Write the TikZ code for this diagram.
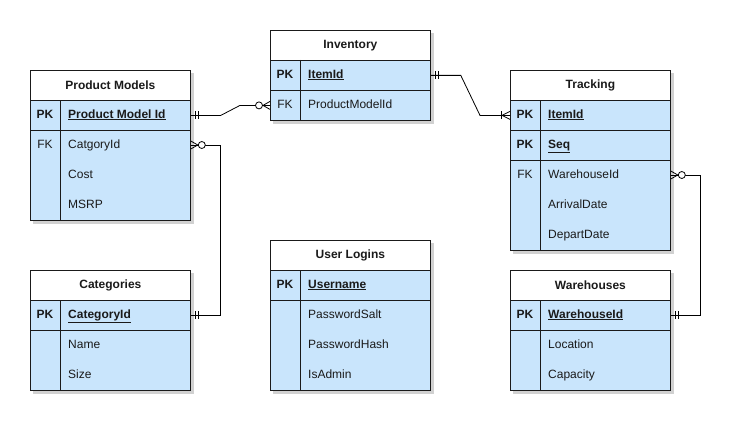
\documentclass[tikz,border=0pt]{standalone}
\usepackage{fontspec}
\setmainfont{Liberation Sans}
\usetikzlibrary{calc,backgrounds}
\definecolor{erblue}{HTML}{C9E5FC}
\definecolor{ink}{HTML}{1A1A1A}
\tikzset{
 tbltitle/.style={draw=ink, fill=white, line width=0.8pt, minimum width=160pt, minimum height=30pt, inner sep=0pt, anchor=north west, font=\fontsize{12}{14}\selectfont\bfseries, text=ink},
 tblsec/.style={draw=ink, fill=erblue, line width=0.8pt, minimum width=160pt, inner sep=0pt, anchor=north west},
 keytxt/.style={inner sep=0pt, text=ink, text height=8.6pt, text depth=2.6pt},
 fldtxt/.style={inner sep=0pt, anchor=west, text=ink, text height=8.6pt, text depth=2.6pt},
 shade/.style={fill=black!18},
 divider/.style={draw=ink, line width=0.8pt},
 conn/.style={line width=0.8pt, draw=black},
}
\newcommand{\erone}[2]{%
 \draw[conn] ($(#1)+(#2*5,-4)$) -- ($(#1)+(#2*5,4)$);
 \draw[conn] ($(#1)+(#2*8,-4)$) -- ($(#1)+(#2*8,4)$);}
\newcommand{\erzeromany}[2]{%
 \draw[conn] ($(#1)+(0,-4)$) -- ($(#1)+(#2*7,0)$) -- ($(#1)+(0,4)$);
 \draw[conn, fill=white] ($(#1)+(#2*11,0)$) circle[radius=3.5pt];}
\newcommand{\eronemany}[2]{%
 \draw[conn] ($(#1)+(0,-4)$) -- ($(#1)+(#2*8,0)$) -- ($(#1)+(0,4)$);
 \draw[conn] ($(#1)+(#2*9,-4)$) -- ($(#1)+(#2*9,4)$);}
\begin{document}
\begin{tikzpicture}[x=1pt, y=-1pt, font=\fontsize{12}{14}\selectfont]
\useasboundingbox (0,0) rectangle (747,428);
% Product Models
\node[tbltitle] (pmt) at (30,70) {Product Models};
\node[tblsec, minimum height=30pt] (pmk) at (30,100) {};
\node[tblsec, minimum height=90pt] (pmf) at (30,130) {};
\draw[divider] ($(pmk.north west)+(30,0)$) -- ($(pmf.south west)+(30,0)$);
\node[keytxt] (pmkk) at (45,115) {\textbf{PK}};
\node[fldtxt] (pmk1) at (68,115) {\textbf{\underline{Product Model Id}}};
\node[keytxt] (pmfk) at (45,145) {FK};
\node[fldtxt] (pmf1) at (68,145) {CatgoryId};
\node[fldtxt] (pmf2) at (68,175) {Cost};
\node[fldtxt] (pmf3) at (68,205) {MSRP};
% Inventory
\node[tbltitle] (invt) at (270,30) {Inventory};
\node[tblsec, minimum height=30pt] (invk) at (270,60) {};
\node[tblsec, minimum height=30pt] (invf) at (270,90) {};
\draw[divider] ($(invk.north west)+(30,0)$) -- ($(invf.south west)+(30,0)$);
\node[keytxt] (invkk) at (285,75) {\textbf{PK}};
\node[fldtxt] (invk1) at (308,75) {\textbf{\underline{ItemId}}};
\node[keytxt] (invfk) at (285,105) {FK};
\node[fldtxt] (invf1) at (308,105) {ProductModelId};
% Tracking
\node[tbltitle] (trt) at (510,70) {Tracking};
\node[tblsec, minimum height=30pt] (trk1) at (510,100) {};
\node[tblsec, minimum height=30pt] (trk2) at (510,130) {};
\node[tblsec, minimum height=90pt] (trf) at (510,160) {};
\draw[divider] ($(trk1.north west)+(30,0)$) -- ($(trf.south west)+(30,0)$);
\node[keytxt] (trkk1) at (525,115) {\textbf{PK}};
\node[fldtxt] (trk1t) at (548,115) {\textbf{\underline{ItemId}}};
\node[keytxt] (trkk2) at (525,145) {\textbf{PK}};
\node[fldtxt] (trk2t) at (548,145) {\textbf{\underline{Seq}}};
\node[keytxt] (trfk) at (525,175) {FK};
\node[fldtxt] (trf1) at (548,175) {WarehouseId};
\node[fldtxt] (trf2) at (548,205) {ArrivalDate};
\node[fldtxt] (trf3) at (548,235) {DepartDate};
% Categories
\node[tbltitle] (catt) at (30,270) {Categories};
\node[tblsec, minimum height=30pt] (catk) at (30,300) {};
\node[tblsec, minimum height=60pt] (catf) at (30,330) {};
\draw[divider] ($(catk.north west)+(30,0)$) -- ($(catf.south west)+(30,0)$);
\node[keytxt] (catkk) at (45,315) {\textbf{PK}};
\node[fldtxt] (catk1) at (68,315) {\textbf{\underline{CategoryId}}};
\node[fldtxt] (catf1) at (68,345) {Name};
\node[fldtxt] (catf2) at (68,375) {Size};
% User Logins
\node[tbltitle] (ult) at (270,240) {User Logins};
\node[tblsec, minimum height=30pt] (ulk) at (270,270) {};
\node[tblsec, minimum height=90pt] (ulf) at (270,300) {};
\draw[divider] ($(ulk.north west)+(30,0)$) -- ($(ulf.south west)+(30,0)$);
\node[keytxt] (ulkk) at (285,285) {\textbf{PK}};
\node[fldtxt] (ulk1) at (308,285) {\textbf{\underline{Username}}};
\node[fldtxt] (ulf1) at (308,315) {PasswordSalt};
\node[fldtxt] (ulf2) at (308,345) {PasswordHash};
\node[fldtxt] (ulf3) at (308,375) {IsAdmin};
% Warehouses
\node[tbltitle] (wht) at (510,270) {Warehouses};
\node[tblsec, minimum height=30pt] (whk) at (510,300) {};
\node[tblsec, minimum height=60pt] (whf) at (510,330) {};
\draw[divider] ($(whk.north west)+(30,0)$) -- ($(whf.south west)+(30,0)$);
\node[keytxt] (whkk) at (525,315) {\textbf{PK}};
\node[fldtxt] (whk1) at (548,315) {\textbf{\underline{WarehouseId}}};
\node[fldtxt] (whf1) at (548,345) {Location};
\node[fldtxt] (whf2) at (548,375) {Capacity};
% shadows
\begin{scope}[on background layer]
\fill[shade] ($(pmt.north west)+(3,3)$) rectangle ($(pmf.south east)+(3,3)$);
\fill[shade] ($(invt.north west)+(3,3)$) rectangle ($(invf.south east)+(3,3)$);
\fill[shade] ($(trt.north west)+(3,3)$) rectangle ($(trf.south east)+(3,3)$);
\fill[shade] ($(catt.north west)+(3,3)$) rectangle ($(catf.south east)+(3,3)$);
\fill[shade] ($(ult.north west)+(3,3)$) rectangle ($(ulf.south east)+(3,3)$);
\fill[shade] ($(wht.north west)+(3,3)$) rectangle ($(whf.south east)+(3,3)$);
\end{scope}
% connectors
\draw[conn] (pmk.east) -- ($(pmk.east)+(30,0)$) -- ($(invf.west)+(-30,0)$) -- (invf.west);
\erone{pmk.east}{1}
\erzeromany{invf.west}{-1}
\draw[conn] (invk.east) -- ($(invk.east)+(30,0)$) -- ($(trk1.west)+(-30,0)$) -- (trk1.west);
\erone{invk.east}{1}
\eronemany{trk1.west}{-1}
\coordinate (trwh) at (trf.east |- trf1);
\draw[conn] (trwh) -- ++(30,0) |- (whk.east);
\erzeromany{trwh}{1}
\erone{whk.east}{1}
\coordinate (pmcat) at (pmf.east |- pmf1);
\draw[conn] (pmcat) -- ++(30,0) |- (catk.east);
\erzeromany{pmcat}{1}
\erone{catk.east}{1}
\end{tikzpicture}
\end{document}
